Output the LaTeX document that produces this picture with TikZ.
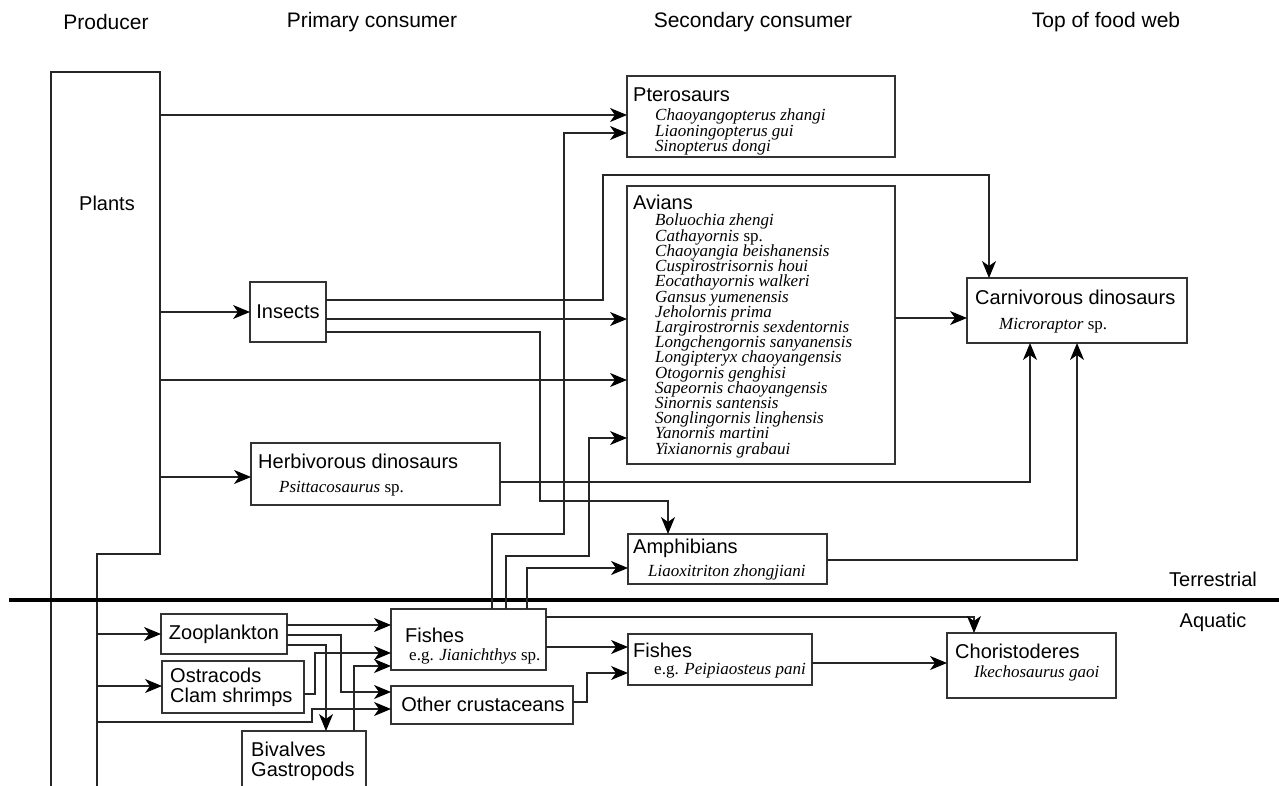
\documentclass[tikz,border=0pt]{standalone}
\usepackage{fontspec}
\setmainfont{Liberation Sans}
\newfontfamily\fwserif{Liberation Serif}
\usetikzlibrary{arrows.meta}
\newcommand\fwbox[5]{\node[box, minimum width={(#4-#2)*1pt}, minimum height={(#5-#3)*1pt}] (#1) at ({(#2+#4)/2},{(#3+#5)/2}) {};}
\begin{document}
\begin{tikzpicture}[x=1pt,y=-1pt,
 box/.style={draw=black!80, line width=1.2pt, inner sep=0pt, outer sep=0pt},
 link/.style={draw=black!85, line width=1.2pt},
 arr/.style={link, -{Stealth[length=17pt,width=14pt,inset=5pt,black]}},
 lbl/.style={font=\fontsize{20}{24}\selectfont, inner sep=0pt},
 hdr/.style={font=\fontsize{21}{25}\selectfont, inner sep=0pt},
 sp/.style={font=\fwserif\fontsize{17}{17}\selectfont, inner sep=0pt, anchor=base west},
]
\useasboundingbox (0,0) rectangle (1279,786);

% headers
\node[hdr] (hprod) at (106,22) {Producer};
\node[hdr] (hprim) at (372,22) {Primary consumer};
\node[hdr] (hsec) at (753,22) {Secondary consumer};
\node[hdr] (htop) at (1106,22) {Top of food web};

% plants outline
\coordinate (plantsE) at (160,72);
\coordinate (plantsF) at (97,554);
\draw[link] (51,786) -- (51,72) -- (plantsE) -- (160,554) -- (plantsF) -- (97,786);
\node[lbl] (plants) at (107,203) {Plants};

% boxes
\fwbox{ptero}{627}{76}{895}{157}
\fwbox{avians}{627}{186}{895}{464}
\fwbox{carn}{967}{278}{1187}{343}
\fwbox{insects}{250}{282}{326}{342}
\fwbox{herb}{251}{443}{500}{505}
\fwbox{amph}{628}{534}{827}{584}
\fwbox{zoo}{161}{614}{287}{654}
\fwbox{ostr}{162}{661}{304}{713}
\fwbox{biv}{242}{731}{366}{800}
\fwbox{fishA}{391}{609}{546}{670}
\fwbox{other}{391}{686}{573}{724}
\fwbox{fishB}{628}{634}{812}{685}
\fwbox{chor}{947}{633}{1116}{698}

% texts
\node[lbl,anchor=west] (tptero) at (633,95) {Pterosaurs};
\foreach \t [count=\i from 0] in {{\textit{Chaoyangopterus zhangi}},{\textit{Liaoningopterus gui}},{\textit{Sinopterus dongi}}}
  \node[sp] (pt\i) at (655,{121+15.2*\i}) {\t};
\node[lbl,anchor=west] (tavians) at (633,202) {Avians};
\foreach \t [count=\i from 0] in {{\textit{Boluochia zhengi}},{\textit{Cathayornis} sp.},{\textit{Chaoyangia beishanensis}},{\textit{Cuspirostrisornis houi}},{\textit{Eocathayornis walkeri}},{\textit{Gansus yumenensis}},{\textit{Jeholornis prima}},{\textit{Largirostrornis sexdentornis}},{\textit{Longchengornis sanyanensis}},{\textit{Longipteryx chaoyangensis}},{\textit{Otogornis genghisi}},{\textit{Sapeornis chaoyangensis}},{\textit{Sinornis santensis}},{\textit{Songlingornis linghensis}},{\textit{Yanornis martini}},{\textit{Yixianornis grabaui}}}
  \node[sp] (av\i) at (655,{226+15.2*\i}) {\t};
\node[lbl,anchor=west] (tcarn) at (975,297) {Carnivorous dinosaurs};
\node[sp] (tmicro) at (999,329) {\textit{Microraptor} sp.};
\node[lbl] (tinsects) at (288,312) {Insects};
\node[lbl,anchor=west] (therb) at (258,461) {Herbivorous dinosaurs};
\node[sp] (tpsit) at (279,492) {\textit{Psittacosaurus} sp.};
\node[lbl,anchor=west] (tamph) at (633,548) {Amphibians};
\node[sp] (tliao) at (648,576) {\textit{Liaoxitriton zhongjiani}};
\node[lbl] (tzoo) at (224,634) {Zooplankton};
\node[lbl,anchor=west] (tostr) at (170,675) {Ostracods};
\node[lbl,anchor=west] (tclam) at (170,697) {Clam shrimps};
\node[lbl,anchor=west] (tbiv) at (251,749) {Bivalves};
\node[lbl,anchor=west] (tgast) at (251,771) {Gastropods};
\node[lbl,anchor=west] (tfishA) at (405,635) {Fishes};
\node[sp] (tjian) at (409,660) {e.g. \textit{Jianichthys} sp.};
\node[lbl] (tother) at (483,704) {Other crustaceans};
\node[lbl,anchor=west] (tfishB) at (633,650) {Fishes};
\node[sp] (tpeip) at (654,674) {e.g. \textit{Peipiaosteus pani}};
\node[lbl,anchor=west] (tchor) at (955,651) {Choristoderes};
\node[sp] (tike) at (974,677) {\textit{Ikechosaurus gaoi}};
\node[lbl] (tterr) at (1213,579) {Terrestrial};
\node[lbl] (taqua) at (1213,622) {Aquatic};

% divider
\coordinate (divL) at (9,600);
\coordinate (divR) at (1279,600);
\draw[line width=4pt] (divL) -- (divR);

% connectors from plants
\draw[arr] (plantsE |- 0,115) -- (ptero.west |- 0,115);
\draw[arr] (plantsE |- 0,312) -- (insects.west |- 0,312);
\draw[arr] (plantsE |- 0,380) -- (avians.west |- 0,380);
\draw[arr] (plantsE |- 0,477) -- (herb.west |- 0,477);
\draw[arr] (plantsF |- 0,634) -- (zoo.west |- 0,634);
\draw[arr] (plantsF |- 0,686) -- (ostr.west |- 0,686);
\draw[arr] (plantsF |- 0,722) -- (312,722) -- (312,709) -- (other.west |- 0,709);

% insects
\draw[arr] (insects.east |- 0,300) -- (603,300) -- (603,175) -- (989,175) -- (carn.north -| 989,0);
\draw[arr] (insects.east |- 0,319) -- (avians.west |- 0,319);
\draw[arr] (insects.east |- 0,332) -- (540,332) -- (540,501) -- (668,501) -- (amph.north -| 668,0);

% to carnivorous
\draw[arr] (avians.east |- 0,318) -- (carn.west |- 0,318);
\draw[arr] (herb.east |- 0,482) -- (1030,482) -- (carn.south -| 1030,0);
\draw[arr] (amph.east |- 0,560) -- (1077,560) -- (carn.south -| 1077,0);

% fishes to terrestrial
\draw[arr] (fishA.north -| 492,0) -- (492,534) -- (564,534) -- (564,133) -- (ptero.west |- 0,133);
\draw[arr] (fishA.north -| 506,0) -- (506,556) -- (589,556) -- (589,438) -- (avians.west |- 0,438);
\draw[arr] (fishA.north -| 527,0) -- (527,568) -- (amph.west |- 0,568);

% aquatic
\draw[arr] (zoo.east |- 0,625) -- (fishA.west |- 0,625);
\draw[arr] (zoo.east |- 0,635) -- (341,635) -- (341,692) -- (other.west |- 0,692);
\draw[arr] (zoo.east |- 0,645) -- (326,645) -- (biv.north -| 326,0);
\draw[arr] (ostr.east |- 0,694) -- (315,694) -- (315,653) -- (fishA.west |- 0,653);
\draw[arr] (biv.north -| 354,0) -- (354,666) -- (fishA.west |- 0,666);
\draw[arr] (fishA.east |- 0,647) -- (fishB.west |- 0,647);
\draw[arr] (fishA.east |- 0,617) -- (974,617) -- (chor.north -| 974,0);
\draw[arr] (other.east |- 0,702) -- (587,702) -- (587,673) -- (fishB.west |- 0,673);
\draw[arr] (fishB.east |- 0,663) -- (chor.west |- 0,663);
\end{tikzpicture}
\end{document}
